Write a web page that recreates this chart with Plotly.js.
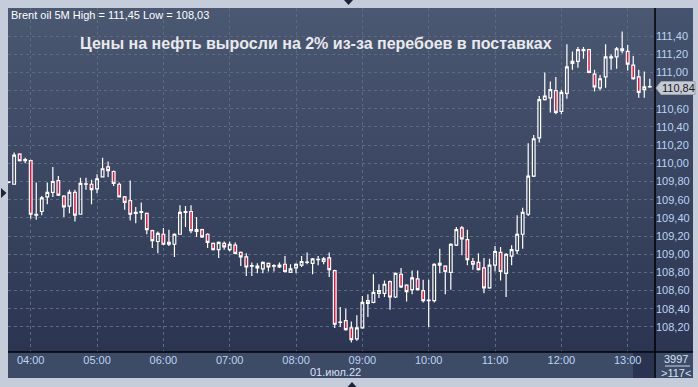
<!DOCTYPE html>
<html>
<head>
<meta charset="utf-8">
<script src="https://cdn.plot.ly/plotly-3.0.1.min.js"></script>
<style>
  html, body { margin: 0; padding: 0; background: #c4cdd9; width: 698px; height: 387px; overflow: hidden; }
  #panel { position: absolute; left: 8px; top: 8px; width: 685px; height: 370px; background: #3e4b67; }
  #rstrip { position: absolute; left: 655px; top: 8px; width: 38px; height: 344px; background: linear-gradient(#46536e, #2c3652); }
  #plotbg { position: absolute; left: 8px; top: 8px; width: 647px; height: 344px; background: linear-gradient(#4b5872, #2b3551); }
  #chart { position: absolute; left: 0; top: 0; width: 698px; height: 387px; }
</style>
</head>
<body>
<div id="panel"></div>
<div id="rstrip"></div>
<div id="plotbg"></div>
<div id="chart"></div>
<script>
// ---- data (Brent oil, 5-minute candles, 01.07.2022, 03:40 .. 13:20) ----
const startMinute = 220;   // 03:40
const stepMinutes = 5;
const barCount = 117;

const openVals = [
  109.79,109.77,110.10,110.03,110.03,109.43,109.47,109.63,109.68,109.81,
  109.64,109.53,109.68,109.44,109.77,109.77,109.72,109.85,109.96,109.91,
  109.77,109.63,109.59,109.45,109.46,109.45,109.26,109.14,109.22,109.13,
  109.11,109.22,109.46,109.47,109.27,109.27,109.22,109.12,109.05,109.12,
  109.05,109.10,109.02,108.97,108.87,108.87,108.84,108.90,108.87,108.86,
  108.89,108.80,108.85,108.88,108.91,108.90,108.94,108.92,108.96,108.82,
  108.25,108.27,108.19,108.07,108.19,108.49,108.47,108.57,108.57,108.70,
  108.53,108.78,108.66,108.61,108.73,108.60,108.49,108.49,108.90,108.87,
  108.80,109.10,109.29,109.16,108.92,108.91,108.85,108.63,108.88,109.02,
  108.79,108.98,109.04,109.22,109.44,109.86,110.28,110.70,110.72,110.80,
  110.57,110.77,111.12,111.12,111.24,111.25,110.98,110.83,110.95,111.16,
  111.17,111.26,111.23,111.08,110.95,110.81,110.84
];
const highVals = [
  109.80,110.12,110.11,110.06,110.04,109.79,109.64,109.79,109.96,109.86,
  109.65,109.71,109.71,109.84,109.84,109.82,109.88,110.06,110.02,109.92,
  109.79,109.64,109.81,109.52,109.57,109.46,109.27,109.25,109.29,109.27,
  109.23,109.54,109.53,109.54,109.41,109.28,109.23,109.13,109.14,109.14,
  109.14,109.13,109.03,109.01,108.91,108.90,108.92,108.91,108.89,108.91,
  108.98,108.89,108.90,108.98,109.02,108.96,108.98,108.97,109.02,108.83,
  108.42,108.40,108.26,108.33,108.54,108.56,108.78,108.67,108.71,108.71,
  108.80,108.85,108.67,108.82,108.82,108.72,108.72,108.90,109.06,108.88,
  109.12,109.30,109.31,109.27,108.96,109.01,108.96,108.95,109.09,109.08,
  109.01,109.10,109.43,109.51,110.22,110.31,110.74,111.00,110.90,110.95,
  110.81,111.31,111.23,111.28,111.28,111.26,111.03,110.97,111.31,111.20,
  111.28,111.45,111.30,111.18,111.03,111.01,110.93
];
const lowVals = [
  109.78,109.77,110.02,110.00,109.39,109.38,109.43,109.55,109.63,109.64,
  109.41,109.45,109.36,109.44,109.71,109.55,109.67,109.85,109.85,109.75,
  109.63,109.49,109.37,109.34,109.38,109.22,109.07,109.01,109.10,109.09,
  108.97,109.22,109.30,109.23,109.19,109.18,109.07,109.04,108.96,109.05,
  109.03,109.00,108.87,108.76,108.76,108.79,108.79,108.81,108.81,108.85,
  108.80,108.80,108.79,108.86,108.89,108.78,108.88,108.89,108.75,108.19,
  108.20,108.16,108.03,108.05,108.18,108.31,108.46,108.52,108.53,108.39,
  108.52,108.63,108.48,108.56,108.60,108.47,108.20,108.47,108.79,108.56,
  108.61,109.09,108.99,108.88,108.83,108.82,108.57,108.62,108.81,108.71,
  108.53,108.88,109.00,109.06,109.42,109.85,110.23,110.69,110.56,110.54,
  110.54,110.71,111.03,111.05,111.15,110.99,110.79,110.80,110.83,111.03,
  111.04,111.21,111.02,110.92,110.72,110.72,110.83
];
const closeVals = [
  109.795,110.09,110.03,110.04,109.44,109.44,109.62,109.68,109.80,109.65,
  109.52,109.68,109.43,109.78,109.775,109.71,109.83,109.94,109.92,109.78,
  109.63,109.57,109.44,109.46,109.47,109.27,109.15,109.23,109.11,109.11,
  109.22,109.46,109.47,109.26,109.25,109.19,109.13,109.05,109.13,109.08,
  109.11,109.01,108.97,108.86,108.875,108.85,108.91,108.86,108.875,108.88,
  108.81,108.84,108.89,108.92,108.915,108.95,108.945,108.95,108.83,108.23,
  108.255,108.17,108.06,108.19,108.47,108.46,108.58,108.60,108.67,108.53,
  108.79,108.64,108.59,108.74,108.61,108.49,108.495,108.89,108.88,108.81,
  109.11,109.27,109.17,108.94,108.89,108.83,108.63,108.88,109.03,108.81,
  109.00,109.05,109.22,109.46,109.86,110.27,110.70,110.74,110.81,110.56,
  110.78,111.06,111.10,111.25,111.25,111.00,110.84,110.93,111.17,111.17,
  111.26,111.24,111.09,110.93,110.78,110.84,110.845
];

const hourTicks = ['04:00','05:00','06:00','07:00','08:00','09:00','10:00','11:00','12:00','13:00'];
const yTickVals = [108.2,108.4,108.6,108.8,109.0,109.2,109.4,109.6,109.8,110.0,110.2,110.4,110.6,110.8,111.0,111.2,111.4];
const yTickText = ['108,20','108,40','108,60','108,80','109,00','109,20','109,40','109,60','109,80','110,00','110,20','110,40','110,60','','111,00','111,20','111,40'];
const titleText = 'Цены на нефть выросли на 2% из-за перебоев в поставках';
const infoText = 'Brent oil 5M High = 111,45 Low = 108,03';
const dateText = '01.июл.22';
const lastPriceText = '110,84';
const barsText = '3997';
const visibleText = '>117<';

// ---- build x (timestamps) ----
function pad(n){ return (n < 10 ? '0' : '') + n; }
function esc(s){ return s.replace(/&/g,'&amp;').replace(/</g,'&lt;').replace(/>/g,'&gt;'); }
const day = '2022-07-01 ';
const times = [];
for (let k = 0; k < barCount; k++) {
  const m = startMinute + k * stepMinutes;
  times.push(day + pad(Math.floor(m / 60)) + ':' + pad(m % 60));
}
const tickDates = hourTicks.map(t => day + t);

// ---- geometry helpers (plot area: x 8..655, y 8..352) ----
const L = 8, R = 655, T = 8, B = 352;
const W = 698, H = 387;
const px = x => (x - L) / (R - L);
const py = y => (B - y) / (B - T);

const trace = {
  type: 'candlestick',
  x: times, open: openVals, high: highVals, low: lowVals, close: closeVals,
  increasing: { line: { color: '#ffffff', width: 1.2 }, fillcolor: 'rgba(0,0,0,0)' },
  decreasing: { line: { color: '#ffffff', width: 1.2 }, fillcolor: '#e2173d' },
  whiskerwidth: 0,
  hoverinfo: 'skip'
};

const narrow = '"Liberation Sans Narrow", "Liberation Sans", Arial, sans-serif';
const axisFont = { family: narrow, size: 11, color: '#bcd4f2' };

const shapes = [
  // black frame lines
  { type: 'line', xref: 'paper', yref: 'paper', x0: 1, x1: 1, y0: 1, y1: py(378), line: { color: '#000000', width: 1.5 } },
  { type: 'line', xref: 'paper', yref: 'paper', x0: 0, x1: px(693), y0: 0, y1: 0, line: { color: '#000000', width: 1.5 } },
  // dark scroll box in x-axis strip
  { type: 'rect', xref: 'paper', yref: 'paper', x0: px(633), x1: px(654), y0: py(353), y1: py(378), fillcolor: '#2a3450', line: { width: 0 }, layer: 'below' },
  // separator in the bottom-right cell
  { type: 'line', xref: 'paper', yref: 'paper', x0: px(665), x1: px(690), y0: py(366), y1: py(366), line: { color: '#c8d6ea', width: 1 } },
  // last price tag
  { type: 'path', xref: 'paper', yref: 'paper',
    path: 'M ' + px(656) + ' ' + py(88) + ' L ' + px(661) + ' ' + py(81.5) + ' L ' + px(695) + ' ' + py(81.5) +
          ' L ' + px(695) + ' ' + py(94.5) + ' L ' + px(661) + ' ' + py(94.5) + ' Z',
    fillcolor: '#c6cbd3', line: { color: '#9aa2ae', width: 1 } },
  // small markers on the outer frame
  { type: 'path', xref: 'paper', yref: 'paper',
    path: 'M ' + px(1) + ' ' + py(188) + ' L ' + px(6.5) + ' ' + py(193) + ' L ' + px(1) + ' ' + py(198) + ' Z',
    fillcolor: '#1c2436', line: { width: 0 } },
  { type: 'path', xref: 'paper', yref: 'paper',
    path: 'M ' + px(344) + ' ' + py(0) + ' L ' + px(353) + ' ' + py(0) + ' L ' + px(348.5) + ' ' + py(5) + ' Z',
    fillcolor: '#1c2436', line: { width: 0 } },
  { type: 'path', xref: 'paper', yref: 'paper',
    path: 'M ' + px(347.5) + ' ' + py(387) + ' L ' + px(356.5) + ' ' + py(387) + ' L ' + px(352) + ' ' + py(382) + ' Z',
    fillcolor: '#1c2436', line: { width: 0 } }
];

const annotations = [
  { text: esc(titleText), xref: 'paper', yref: 'paper', x: px(315.5), y: py(44), xanchor: 'center', yanchor: 'middle', showarrow: false,
    font: { family: '"Liberation Sans", Arial, sans-serif', size: 16, color: '#eaeaea', weight: 'bold' } },
  { text: esc(infoText), xref: 'paper', yref: 'paper', x: px(9), y: py(15), xanchor: 'left', yanchor: 'middle', showarrow: false,
    font: { family: narrow, size: 11, color: '#ffffff' } },
  { text: esc(dateText), xref: 'paper', yref: 'paper', x: px(335), y: py(372), xanchor: 'center', yanchor: 'middle', showarrow: false,
    font: { family: narrow, size: 11, color: '#d4e2f4' } },
  { text: esc(barsText) + '<br>' + esc(visibleText), xref: 'paper', yref: 'paper', x: px(676), y: py(366), xanchor: 'center', yanchor: 'middle',
    align: 'center', showarrow: false,
    font: { family: narrow, size: 11, color: '#d4e2f4' } },
  { text: esc(lastPriceText), xref: 'paper', yref: 'paper', x: px(660), y: py(88), xanchor: 'left', yanchor: 'middle', showarrow: false,
    font: { family: narrow, size: 11, color: '#1a1a1a' } }
];

const layout = {
  width: W, height: H,
  margin: { l: L, r: W - R, t: T, b: H - B, pad: 0 },
  paper_bgcolor: 'rgba(0,0,0,0)',
  plot_bgcolor: 'rgba(0,0,0,0)',
  separators: ', ',
  showlegend: false,
  hovermode: false,
  xaxis: {
    type: 'date',
    range: ['2022-07-01 03:39:27', '2022-07-01 13:24:42'],
    tickmode: 'array', tickvals: tickDates, ticktext: hourTicks,
    showgrid: true, gridcolor: '#5d6a84', griddash: '3px,3px', gridwidth: 1,
    zeroline: false, showline: false, ticks: '',
    tickfont: axisFont,
    rangeslider: { visible: false },
    fixedrange: true
  },
  yaxis: {
    side: 'right',
    range: [107.925, 111.708],
    tickmode: 'array', tickvals: yTickVals, ticktext: yTickText,
    showgrid: true, gridcolor: '#5d6a84', griddash: '3px,3px', gridwidth: 1,
    zeroline: false, showline: false, ticks: '',
    tickfont: axisFont,
    fixedrange: true
  },
  shapes: shapes,
  annotations: annotations
};

Plotly.newPlot('chart', [trace], layout, { staticPlot: true, displayModeBar: false });
</script>
</body>
</html>
